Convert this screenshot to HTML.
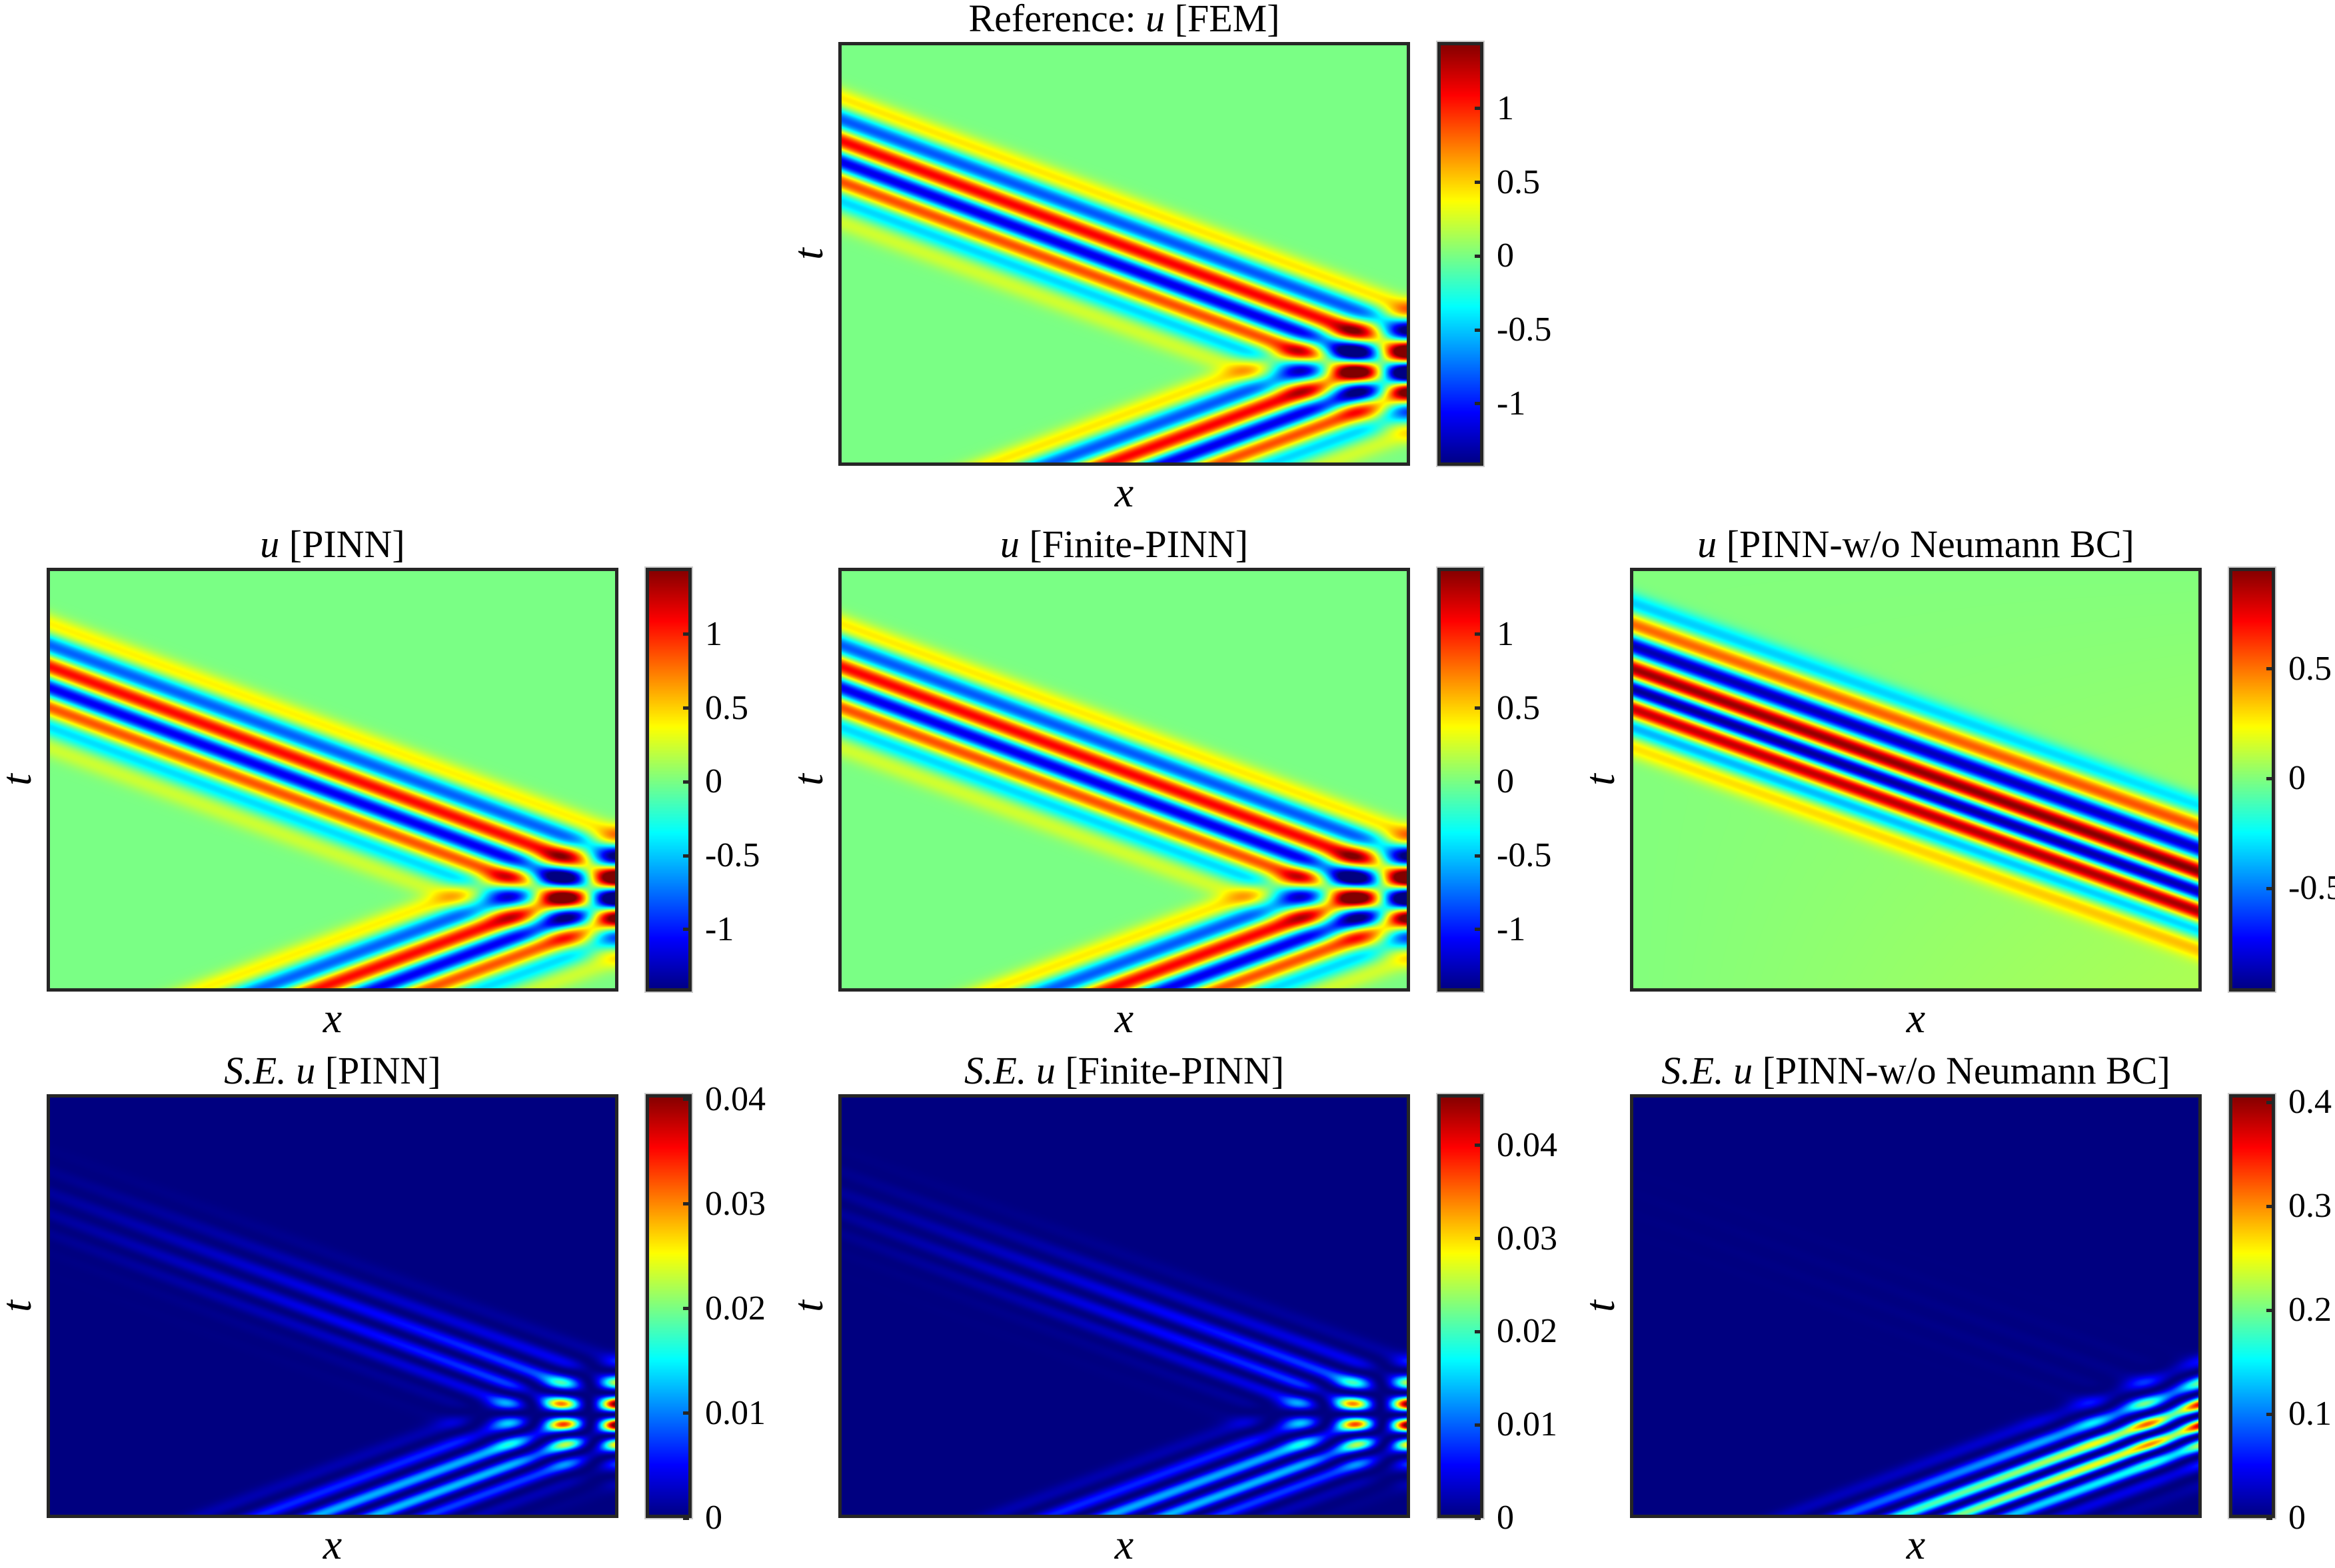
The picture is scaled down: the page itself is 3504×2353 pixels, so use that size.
<!DOCTYPE html>
<html><head><meta charset="utf-8">
<style>
html,body{margin:0;padding:0;background:#fff;}
body{width:3504px;height:2338px;position:relative;overflow:hidden;font-family:"Liberation Serif",serif;color:#000;}
.ax{position:absolute;}
.ax canvas{position:absolute;left:0;top:0;}
.frame{position:absolute;left:0;top:0;right:0;bottom:0;border:5px solid #262626;box-sizing:border-box;}
.cbframe{position:absolute;left:0;top:0;right:0;bottom:0;border:5px solid #262626;box-sizing:border-box;outline:2px solid #ccc;}
.title{position:absolute;font-size:58px;white-space:nowrap;transform:translateX(-50%);line-height:1;}
.xl,.tl{position:absolute;font-size:64px;font-style:italic;line-height:1;}
.tl{transform:translate(-50%,-50%) rotate(-90deg);}
.xl{transform:translate(-50%,-50%);}
.tick{position:absolute;font-size:52px;line-height:1;transform:translateY(-50%);white-space:nowrap;}
.tm{position:absolute;width:9px;height:5px;background:#262626;}
</style></head>
<body>
<div id="root"></div>
<script>
// ---- data ----
const panelNames = ["fem-u","pinn-u","finite-pinn-u","no-neumann-u","pinn-se","finite-pinn-se","no-neumann-se"];
const panelTitles = ["Reference: <i>u</i> [FEM]","<i>u</i> [PINN]","<i>u</i> [Finite-PINN]","<i>u</i> [PINN-w/o Neumann BC]","<i>S.E.</i> <i>u</i> [PINN]","<i>S.E.</i> <i>u</i> [Finite-PINN]","<i>S.E.</i> <i>u</i> [PINN-w/o Neumann BC]"];
// wave packet: band offsets (vertical, normalized) and amplitudes
const bandOffsets = [-0.10,-0.05,0,0.05,0.095,0.14,0.19];
const femAmps     = [0.45,-0.85,1.15,-1.2,0.95,-0.5,0.25];
const pinnAmps    = [0.42,-0.82,1.12,-1.17,0.93,-0.48,0.24];
const finiteAmps  = [0.44,-0.84,1.14,-1.19,0.94,-0.49,0.25];
const noNeuOffsets = [-0.155,-0.105,-0.055,0,0.047,0.093,0.135,0.183];
const noNeuAmps    = [-0.35,0.55,-0.9,0.95,-1.0,0.9,-0.45,0.3];
// band line geometry: v = v0 + slope*x (x,v normalized, v from top)
const reflLine = [0.231, 0.5];
const noNeuLine = [0.237, 0.483];
// error coefficients [eps on reflected band at x=0, at x=1, eps on incident band]
const pinnErr   = [0.03, 0.09, 0.10];
const finiteErr = [0.03, 0.095, 0.105];
const noNeuErr  = [0.06, 0.14, 0.48];
// colour limits
const climU      = [-1.42, 1.45];
const climNoNeu  = [-0.97, 0.96];
const climPinnSE = [0, 0.0405];
const climFinSE  = [0, 0.0455];
const climNoNeuSE= [0, 0.408];
const ticksU = [-1,-0.5,0,0.5,1];
const tickLabelsU = ["-1","-0.5","0","0.5","1"];
const ticksNoNeu = [-0.5,0,0.5];
const tickLabelsNoNeu = ["-0.5","0","0.5"];
const ticksSE = [0,0.01,0.02,0.03,0.04];
const tickLabelsSE = ["0","0.01","0.02","0.03","0.04"];
const ticksSE2 = [0,0.1,0.2,0.3,0.4];
const tickLabelsSE2 = ["0","0.1","0.2","0.3","0.4"];

// ---- layout ----
const colX = [70, 1258, 2446];
const rowY = [63, 852, 1642];
const AW = 858, AH = 636, CBDX = 899, CBW = 69;

function jet(t){
  t=Math.max(0,Math.min(1,t));
  const r=Math.max(0,Math.min(1,Math.min(4*t-1.5,-4*t+4.5)));
  const g=Math.max(0,Math.min(1,Math.min(4*t-0.5,-4*t+3.5)));
  const b=Math.max(0,Math.min(1,Math.min(4*t+0.5,-4*t+2.5)));
  return [r*255,g*255,b*255];
}
function packet(s, offs, amps){
  let f=0; const w=0.026;
  for(let k=0;k<offs.length;k++){const d=(s-offs[k])/w; f+=amps[k]*Math.exp(-d*d);}
  return f;
}
function bandA(x,v,amps){return packet(v-(reflLine[0]+reflLine[1]*x),bandOffsets,amps);}
function bandB(x,v,amps){return packet(v-(reflLine[0]+reflLine[1]*(2-x)),bandOffsets,amps);}
const fields = {
  "fem-u": (x,v)=>bandA(x,v,femAmps)+bandB(x,v,femAmps),
  "pinn-u": (x,v)=>bandA(x,v,pinnAmps)+bandB(x,v,pinnAmps),
  "finite-pinn-u": (x,v)=>bandA(x,v,finiteAmps)+bandB(x,v,finiteAmps),
  "no-neumann-u": (x,v)=>packet(v-(noNeuLine[0]+noNeuLine[1]*x),noNeuOffsets,noNeuAmps)+0.08*x*v,
  "pinn-se": (x,v)=>{const e=(pinnErr[0]+(pinnErr[1]-pinnErr[0])*x)*bandA(x,v,femAmps)+pinnErr[2]*bandB(x,v,femAmps);return e*e;},
  "finite-pinn-se": (x,v)=>{const e=(finiteErr[0]+(finiteErr[1]-finiteErr[0])*x)*bandA(x,v,femAmps)+finiteErr[2]*bandB(x,v,femAmps);return e*e;},
  "no-neumann-se": (x,v)=>{const e=(noNeuErr[0]+(noNeuErr[1]-noNeuErr[0])*x)*bandA(x,v,femAmps)*0.5+noNeuErr[2]*bandB(x,v,femAmps)*(0.6+0.4*x);return e*e;}
};
const panels = [
  {n:0,col:1,row:0,clim:climU,ticks:ticksU,labels:tickLabelsU},
  {n:1,col:0,row:1,clim:climU,ticks:ticksU,labels:tickLabelsU},
  {n:2,col:1,row:1,clim:climU,ticks:ticksU,labels:tickLabelsU},
  {n:3,col:2,row:1,clim:climNoNeu,ticks:ticksNoNeu,labels:tickLabelsNoNeu},
  {n:4,col:0,row:2,clim:climPinnSE,ticks:ticksSE,labels:tickLabelsSE},
  {n:5,col:1,row:2,clim:climFinSE,ticks:ticksSE,labels:tickLabelsSE},
  {n:6,col:2,row:2,clim:climNoNeuSE,ticks:ticksSE2,labels:tickLabelsSE2}
];
const root=document.getElementById('root');
panels.forEach(p=>{
  const name=panelNames[p.n], L=colX[p.col], T=rowY[p.row];
  const xScale=px=>px/AW, yScale=py=>py/AH; // pixel -> normalized domain
  const ax=document.createElement('div'); ax.className='ax';
  
  
  ax.style.cssText=`left:${L}px;top:${T}px;width:${AW}px;height:${AH}px;`;
  const cv=document.createElement('canvas'); cv.width=AW; cv.height=AH;
  const ctx=cv.getContext('2d'); const img=ctx.createImageData(AW,AH);
  const f=fields[name], lo=p.clim[0], hi=p.clim[1];
  for(let j=0;j<AH;j++){const v=yScale(j+0.5);
    for(let i=0;i<AW;i++){const x=xScale(i+0.5);
      const c=jet((f(x,v)-lo)/(hi-lo)); const k=(j*AW+i)*4;
      img.data[k]=c[0];img.data[k+1]=c[1];img.data[k+2]=c[2];img.data[k+3]=255;}}
  ctx.putImageData(img,0,0); ax.appendChild(cv);
  const fr=document.createElement('div'); fr.className='frame';
  
  
  ax.appendChild(fr); root.appendChild(ax);
  const ti=document.createElement('div'); ti.className='title'; ti.innerHTML=panelTitles[p.n];
  
  
  ti.style.left=(L+AW/2)+'px'; ti.style.top=(T-64)+'px'; root.appendChild(ti);
  const xl=document.createElement('div'); xl.className='xl'; xl.textContent='x';
  
  
  xl.style.left=(L+AW/2)+'px'; xl.style.top=(T+AH+40)+'px'; root.appendChild(xl);
  const tl=document.createElement('div'); tl.className='tl'; tl.textContent='t';
  
  
  tl.style.left=(L-45)+'px'; tl.style.top=(T+AH/2)+'px'; root.appendChild(tl);
  const cb=document.createElement('div'); cb.className='ax';
  
  
  const CL=L+CBDX; cb.style.cssText=`left:${CL}px;top:${T}px;width:${CBW}px;height:${AH}px;`;
  const cc=document.createElement('canvas'); cc.width=CBW; cc.height=AH;
  const c2=cc.getContext('2d');
  for(let j=0;j<AH;j++){const c=jet(1-(j+0.5)/AH); c2.fillStyle=`rgb(${c[0]|0},${c[1]|0},${c[2]|0})`; c2.fillRect(0,j,CBW,1);}
  cb.appendChild(cc);
  const cf=document.createElement('div'); cf.className='cbframe';
  
  
  cb.appendChild(cf); root.appendChild(cb);
  const cbScale=val=>T+AH*(1-(val-lo)/(hi-lo));
  p.ticks.forEach((tv,idx)=>{
    const y=cbScale(tv);
    const tm=document.createElement('div'); tm.className='tm';
    
    
    tm.style.left=(CL+CBW-13)+'px'; tm.style.top=(y-2.5)+'px'; root.appendChild(tm);
    const tx=document.createElement('div'); tx.className='tick'; tx.textContent=p.labels[idx];
    
    
    tx.style.left=(CL+CBW+20)+'px'; tx.style.top=y+'px'; root.appendChild(tx);
  });
});
</script>
</body></html>
